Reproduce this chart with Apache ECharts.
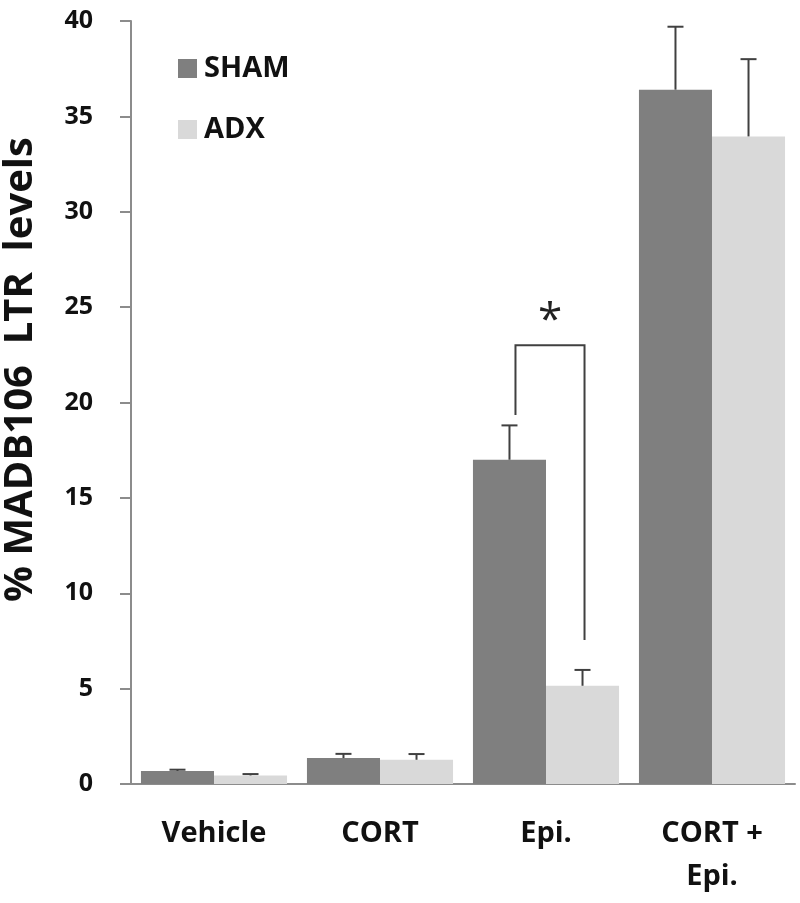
<!DOCTYPE html>
<html>
<head>
<meta charset="utf-8">
<script src="https://cdn.jsdelivr.net/npm/echarts@6/dist/echarts.min.js"></script>
<style>html,body{margin:0;padding:0;background:#fff;}#c{width:800px;height:903px;}</style>
</head>
<body>
<div id="c"></div>
<script>
const categories = ['Vehicle', 'CORT', 'Epi.', 'CORT +\nEpi.'];
const seriesNames = ['SHAM', 'ADX'];
const shamValues = [0.68, 1.36, 17.0, 36.4];
const shamErrors = [0.07, 0.22, 1.8, 3.3];
const adxValues = [0.45, 1.27, 5.15, 33.95];
const adxErrors = [0.07, 0.3, 0.83, 4.05];
const yTicks = [0, 5, 10, 15, 20, 25, 30, 35, 40];
const bracket = { category: 2, top: 23.0, leftBottom: 19.35, rightBottom: 7.55, label: '*' };

const FONT = '"Open Sans", "DejaVu Sans", sans-serif';
const catGap = 0.12;

function errSeries(values, errors, idx) {
  return {
    type: 'custom',
    silent: true,
    z: 5,
    data: values.map((v, i) => [i, v, v + errors[i]]),
    renderItem: function (params, api) {
      const band = api.size([1, 0])[0];
      const bw = band * (1 - catGap) / 2;
      const c = api.coord([api.value(0), api.value(1)]);
      const t = api.coord([api.value(0), api.value(2)]);
      const x = c[0] + (idx === 0 ? -bw / 2 : bw / 2);
      const cap = 8;
      const st = { stroke: '#404040', lineWidth: 2 };
      return {
        type: 'group',
        children: [
          { type: 'line', shape: { x1: x, y1: c[1], x2: x, y2: t[1] }, style: st },
          { type: 'line', shape: { x1: x - cap, y1: t[1], x2: x + cap, y2: t[1] }, style: st }
        ]
      };
    }
  };
}

const chart = echarts.init(document.getElementById('c'), null, { renderer: 'canvas' });
chart.setOption({
  backgroundColor: '#fff',
  animation: false,
  grid: { left: 131, right: 5, top: 21, bottom: 119, containLabel: false, outerBoundsMode: 'none' },
  legend: {
    data: seriesNames,
    orient: 'vertical',
    left: 173,
    top: 49,
    itemWidth: 19,
    itemHeight: 19,
    itemGap: 32,
    icon: 'rect',
    textStyle: { fontFamily: FONT, fontWeight: 'bold', fontSize: 29, color: '#111', padding: [0, 0, 0, 2] }
  },
  xAxis: {
    type: 'category',
    data: categories,
    axisLine: { lineStyle: { color: '#8c8c8c', width: 2 } },
    axisTick: { show: false },
    axisLabel: { fontFamily: FONT, fontWeight: 'bold', fontSize: 29, color: '#111', margin: 28, lineHeight: 43 },
    splitLine: { show: false }
  },
  yAxis: {
    type: 'value',
    min: yTicks[0],
    max: yTicks[yTicks.length - 1],
    interval: 5,
    name: '% MADB106  LTR  levels',
    nameLocation: 'middle',
    nameGap: 90,
    nameTextStyle: { fontFamily: FONT, fontWeight: 'bold', fontSize: 40, color: '#111', padding: [0, 0, 0, 66] },
    axisLine: { show: true, lineStyle: { color: '#8c8c8c', width: 2 } },
    axisTick: { show: true, length: 11, lineStyle: { color: '#8c8c8c', width: 2 } },
    axisLabel: { fontFamily: FONT, fontWeight: 'bold', fontSize: 25, color: '#111', margin: 38 },
    splitLine: { show: false }
  },
  series: [
    { name: 'SHAM', type: 'bar', data: shamValues, itemStyle: { color: '#7f7f7f' }, barGap: '0%', barCategoryGap: (catGap * 100) + '%' },
    { name: 'ADX', type: 'bar', data: adxValues, itemStyle: { color: '#d9d9d9' }, barGap: '0%', barCategoryGap: (catGap * 100) + '%' },
    errSeries(shamValues, shamErrors, 0),
    errSeries(adxValues, adxErrors, 1),
    {
      type: 'custom',
      silent: true,
      z: 6,
      data: [[bracket.category, bracket.top, bracket.leftBottom, bracket.rightBottom]],
      renderItem: function (params, api) {
        const band = api.size([1, 0])[0];
        const bw = band * (1 - catGap) / 2;
        const cx = api.coord([api.value(0), 0])[0];
        const xl = cx - bw / 2 + 6;
        const xr = cx + bw / 2 + 2;
        const yt = api.coord([api.value(0), api.value(1)])[1];
        const yl = api.coord([api.value(0), api.value(2)])[1];
        const yr = api.coord([api.value(0), api.value(3)])[1];
        const st = { stroke: '#404040', lineWidth: 2, fill: null };
        return {
          type: 'group',
          children: [
            { type: 'polyline', shape: { points: [[xl, yl], [xl, yt], [xr, yt], [xr, yr]] }, style: st },
            { type: 'text', x: (xl + xr) / 2, y: yt - 24, style: { text: bracket.label, fontFamily: FONT, fontSize: 44, fill: '#222', align: 'center', verticalAlign: 'middle' } }
          ]
        };
      }
    }
  ]
});
</script>
</body>
</html>
